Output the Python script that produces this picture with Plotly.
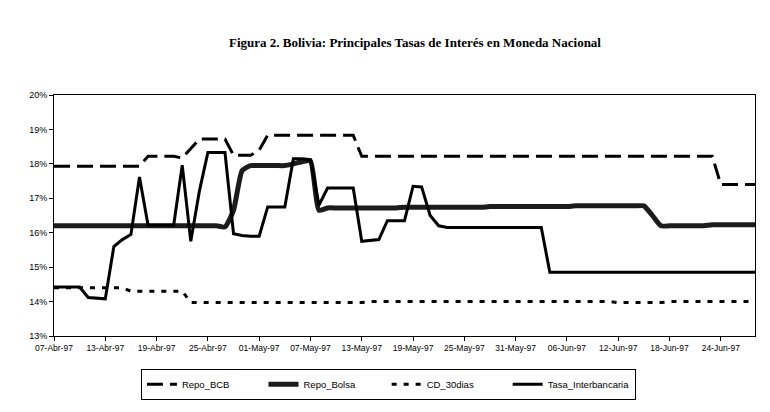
import pandas as pd
import plotly.graph_objects as go

# Daily dates (07-Apr-97 .. 28-Jun-97)
dates = pd.date_range("1997-04-07", "1997-06-28", freq="D")

repo_bcb = (
    [17.93] * 11 + [18.22] * 4 + [18.17, 18.45] + [18.72] * 4 + [18.25] * 3 + [18.40]
    + [18.83] * 11 + [18.22] * 42 + [17.40] * 5
)
repo_bolsa = (
    [16.20] * 20 + [16.17, 16.65, 17.80] + [17.95] * 5 + [18.00, 18.06, 18.08, 16.65]
    + [16.72] * 9 + [16.74] * 10 + [16.76] * 10 + [16.78] * 9 + [16.50]
    + [16.20] * 6 + [16.23] * 6
)
cd_30dias = [14.40] * 9 + [14.30] * 7 + [13.97] * 21 + [14.00] * 29 + [13.97] * 6 + [14.00] * 11
tasa_inter = (
    [14.42] * 4 + [14.12, 14.10, 14.08, 15.60, 15.80, 15.95, 17.62] + [16.22] * 4
    + [17.96, 15.75, 17.20] + [18.33] * 3 + [15.97, 15.92, 15.90, 15.90] + [16.75] * 3
    + [18.15, 18.15, 18.12, 16.80] + [17.30] * 4 + [15.75, 15.78, 15.80] + [16.35] * 3
    + [17.35, 17.33, 16.50, 16.20] + [16.15] * 12 + [14.85] * 25
)

series_names = ["Repo_BCB", "Repo_Bolsa", "CD_30dias", "Tasa_Interbancaria"]

tick_dates = ["1997-04-07", "1997-04-13", "1997-04-19", "1997-04-25", "1997-05-01",
              "1997-05-07", "1997-05-13", "1997-05-19", "1997-05-25", "1997-05-31",
              "1997-06-06", "1997-06-12", "1997-06-18", "1997-06-24"]
tick_labels = ["07-Abr-97", "13-Abr-97", "19-Abr-97", "25-Abr-97", "01-May-97",
               "07-May-97", "13-May-97", "19-May-97", "25-May-97", "31-May-97",
               "06-Jun-97", "12-Jun-97", "18-Jun-97", "24-Jun-97"]
y_ticks = [13, 14, 15, 16, 17, 18, 19, 20]
y_labels = ["13%", "14%", "15%", "16%", "17%", "18%", "19%", "20%"]

title_text = "Figura 2. Bolivia: Principales Tasas de Interés en Moneda Nacional"

SANS = "Liberation Sans, Arial, sans-serif"
NB = "\u00a0"
# trailing padding so that legend entries are evenly spaced (as in the original legend box)
pads = [11, 10, 11, 0]

fig = go.Figure()
fig.add_trace(go.Scatter(x=dates, y=repo_bcb, name=series_names[0] + NB * pads[0], mode="lines",
                         line=dict(color="black", width=3, dash="16px,7px")))
fig.add_trace(go.Scatter(x=dates, y=repo_bolsa, name=series_names[1] + NB * pads[1], mode="lines",
                         line=dict(color="#1c1c1c", width=5, shape="spline", smoothing=0.5)))
fig.add_trace(go.Scatter(x=dates, y=cd_30dias, name=series_names[2] + NB * pads[2], mode="lines",
                         line=dict(color="black", width=3, dash="5px,7px")))
fig.add_trace(go.Scatter(x=dates, y=tasa_inter, name=series_names[3] + NB * pads[3], mode="lines",
                         line=dict(color="black", width=3)))

W, H = 754, 396
fig.update_layout(
    width=W, height=H,
    margin=dict(l=46, r=7, t=87, b=68, autoexpand=False),
    paper_bgcolor="white", plot_bgcolor="white",
    title=dict(text="<b>" + title_text + "</b>", x=407 / W, xanchor="center",
               y=1 - 34 / H, yanchor="middle",
               font=dict(family="Liberation Serif, Times New Roman, serif", size=13, color="black")),
    showlegend=True,
    legend=dict(orientation="h", x=0.124, xanchor="left",
                y=-0.2, yanchor="middle",
                bordercolor="black", borderwidth=1, bgcolor="white",
                font=dict(family=SANS, size=9.5, color="black"),
                itemwidth=30, tracegroupgap=0),
    xaxis=dict(type="date", range=["1997-04-07", "1997-06-28"],
               tickvals=tick_dates, ticktext=tick_labels,
               showgrid=False, zeroline=False, showline=True, mirror=True,
               linecolor="black", linewidth=1, ticks="outside", ticklen=4,
               tickcolor="black",
               tickfont=dict(family=SANS, size=8.5, color="black")),
    yaxis=dict(range=[13, 20], tickvals=y_ticks, ticktext=y_labels,
               showgrid=False, zeroline=False, showline=True, mirror=True,
               linecolor="black", linewidth=1, ticks="outside", ticklen=4,
               tickcolor="black",
               tickfont=dict(family=SANS, size=9, color="black")),
)

fig.write_html("out.html")
